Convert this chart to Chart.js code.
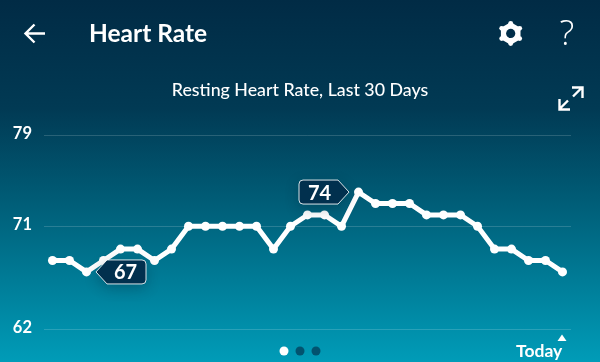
<!DOCTYPE html>
<html>
<head>
<meta charset="utf-8">
<title>Heart Rate</title>
<script src="https://cdn.jsdelivr.net/npm/chart.js@4/dist/chart.umd.min.js"></script>
<style>
  html, body { margin: 0; padding: 0; }
  body {
    width: 600px; height: 362px; overflow: hidden; position: relative;
    background: linear-gradient(180deg, #012b45 0%, #013a54 30%, #005c76 55%, #009cb8 100%);
    font-family: Lato, sans-serif; color: #fff;
  }
  #chart { position: absolute; left: 0; top: 0; }
  .heading { position: absolute; left: 89px; top: 17px; font-size: 24.5px; font-weight: 700; line-height: 32px; }
  .subtitle { position: absolute; left: 0; top: 78px; width: 600px; text-align: center; font-size: 17.8px; font-weight: 500; line-height: 22px; }
  .help { position: absolute; left: 559.5px; top: 9px; font-size: 35px; line-height: 46px; font-family: 'Open Sans', sans-serif; font-weight: 300; }
  .today { position: absolute; left: 516px; top: 340px; font-size: 17.5px; font-weight: 700; line-height: 22px; }
  .icon { position: absolute; left: 0; top: 0; }
</style>
</head>
<body>
<canvas id="chart" width="600" height="362"></canvas>
<div class="heading">Heart Rate</div>
<div class="subtitle">Resting Heart Rate, Last 30 Days</div>
<div class="help">?</div>
<div class="today">Today</div>
<svg class="icon" width="600" height="362" fill="none" stroke="#fff">
  <!-- back arrow -->
  <path d="M45 33.500H26.500M34.500 24.500L25.500 33.500L34.500 42.500" stroke-width="2.400"/>
  <!-- settings gear -->
  <path d="M510.700 24.500l7.800 4.500v9l-7.800 4.500l-7.800-4.500V29z" fill="#fff" stroke-width="4" stroke-linejoin="round"/>
  <g fill="#fff" stroke="none">
    <circle cx="510.700" cy="23.300" r="2.400"/>
    <circle cx="519.700" cy="28.300" r="2.400"/>
    <circle cx="519.700" cy="38.600" r="2.400"/>
    <circle cx="510.700" cy="43.500" r="2.400"/>
    <circle cx="501.700" cy="38.600" r="2.400"/>
    <circle cx="501.700" cy="28.300" r="2.400"/>
  </g>
  <circle cx="510.700" cy="33.400" r="4.600" fill="#012e49" stroke="none"/>
  <!-- expand -->
  <path d="M582 87.500L573 96.500M572 87.500H582.500V98" stroke-width="2.400"/>
  <path d="M568 100.500L559.500 109M559.500 99V109.500H570" stroke-width="2.400"/>
  <!-- page dots -->
  <circle cx="284" cy="351" r="4.500" fill="#fff" stroke="none"/>
  <circle cx="300" cy="351" r="4.500" fill="#02536f" stroke="none"/>
  <circle cx="316" cy="351" r="4.500" fill="#02536f" stroke="none"/>
  <!-- today marker -->
  <path d="M562 334.500L566.500 341H557.500z" fill="#fff" stroke="none"/>
</svg>

<script>
'use strict';

// ── Data ───────────────────────────────────────────────────────────────────────

const days = [
  '1', '2', '3', '4', '5', '6', '7', '8', '9', '10', '11', '12', '13', '14', '15', '16',
  '17', '18', '19', '20', '21', '22', '23', '24', '25', '26', '27', '28', '29', '30', 'Today',
];
const restingRate = [
  68, 68, 67, 68, 69, 69, 68, 69, 71, 71, 71, 71, 71, 69, 71, 72,
  72, 71, 74, 73, 73, 73, 72, 72, 72, 71, 69, 69, 68, 68, 67,
];
const yTicks = [62, 71, 79];

// index into the series, which side of the point the tag sits
const callouts = [
  { index: 2, side: 'right' },
  { index: 18, side: 'left' },
];

// ── Callout tags ───────────────────────────────────────────────────────────────

const calloutPlugin = {
  id: 'callouts',
  afterDatasetsDraw(chart) {
    const { ctx, scales } = chart;
    const GAP = 9.5, NOSE = 11, W = 50, H = 24, R = 4;

    callouts.forEach(c => {
      const value = restingRate[c.index];
      const px = scales.x.getPixelForValue(c.index);
      const py = scales.y.getPixelForValue(value);
      const dir = c.side === 'right' ? 1 : -1;
      const tip = px + dir * GAP;
      const shoulder = tip + dir * NOSE;
      const end = tip + dir * W;
      const top = py - H / 2;
      const bottom = py + H / 2;

      ctx.save();
      ctx.beginPath();
      ctx.moveTo(tip, py);
      ctx.lineTo(shoulder, top);
      ctx.lineTo(end - dir * R, top);
      ctx.quadraticCurveTo(end, top, end, top + R);
      ctx.lineTo(end, bottom - R);
      ctx.quadraticCurveTo(end, bottom, end - dir * R, bottom);
      ctx.lineTo(shoulder, bottom);
      ctx.closePath();
      ctx.shadowColor = 'rgba(0, 30, 50, 0.3)';
      ctx.shadowBlur = 14;
      ctx.shadowOffsetY = 4;
      ctx.fillStyle = '#01304e';
      ctx.fill();
      ctx.shadowColor = 'transparent';
      ctx.lineWidth = 1;
      ctx.strokeStyle = 'rgba(255, 255, 255, 0.85)';
      ctx.stroke();

      ctx.fillStyle = '#fff';
      ctx.font = '700 20px Lato, sans-serif';
      ctx.textAlign = 'center';
      ctx.textBaseline = 'middle';
      ctx.fillText(String(value), (shoulder + end) / 2 - dir * 1, py + 1);
      ctx.restore();
    });
  },
};

// ── Chart ──────────────────────────────────────────────────────────────────────

new Chart(document.getElementById('chart').getContext('2d'), {
  type: 'line',
  data: {
    labels: days,
    datasets: [{
      data: restingRate,
      borderColor: '#fff',
      borderWidth: 5,
      backgroundColor: '#fff',
      pointBackgroundColor: '#fff',
      pointBorderWidth: 0,
      pointRadius: 4.5,
      tension: 0,
    }],
  },
  options: {
    responsive: false,
    animation: false,
    layout: { padding: { top: 135, right: 29, bottom: 33, left: 0 } },
    plugins: {
      legend: { display: false },
      tooltip: { enabled: false },
    },
    scales: {
      x: {
        type: 'category',
        offset: true,
        display: false,
      },
      y: {
        min: 62,
        max: 79,
        afterBuildTicks: scale => { scale.ticks = yTicks.map(value => ({ value })); },
        afterFit: scale => { scale.width = 44; },
        border: { display: false },
        grid: { color: 'rgba(255, 255, 255, 0.16)', lineWidth: 1, drawTicks: false },
        ticks: {
          color: '#fff',
          padding: 12,
          labelOffset: -1.5,
          font: { family: 'Lato, sans-serif', size: 16.5, weight: '700' },
        },
      },
    },
  },
  plugins: [calloutPlugin],
});
</script>
</body>
</html>
